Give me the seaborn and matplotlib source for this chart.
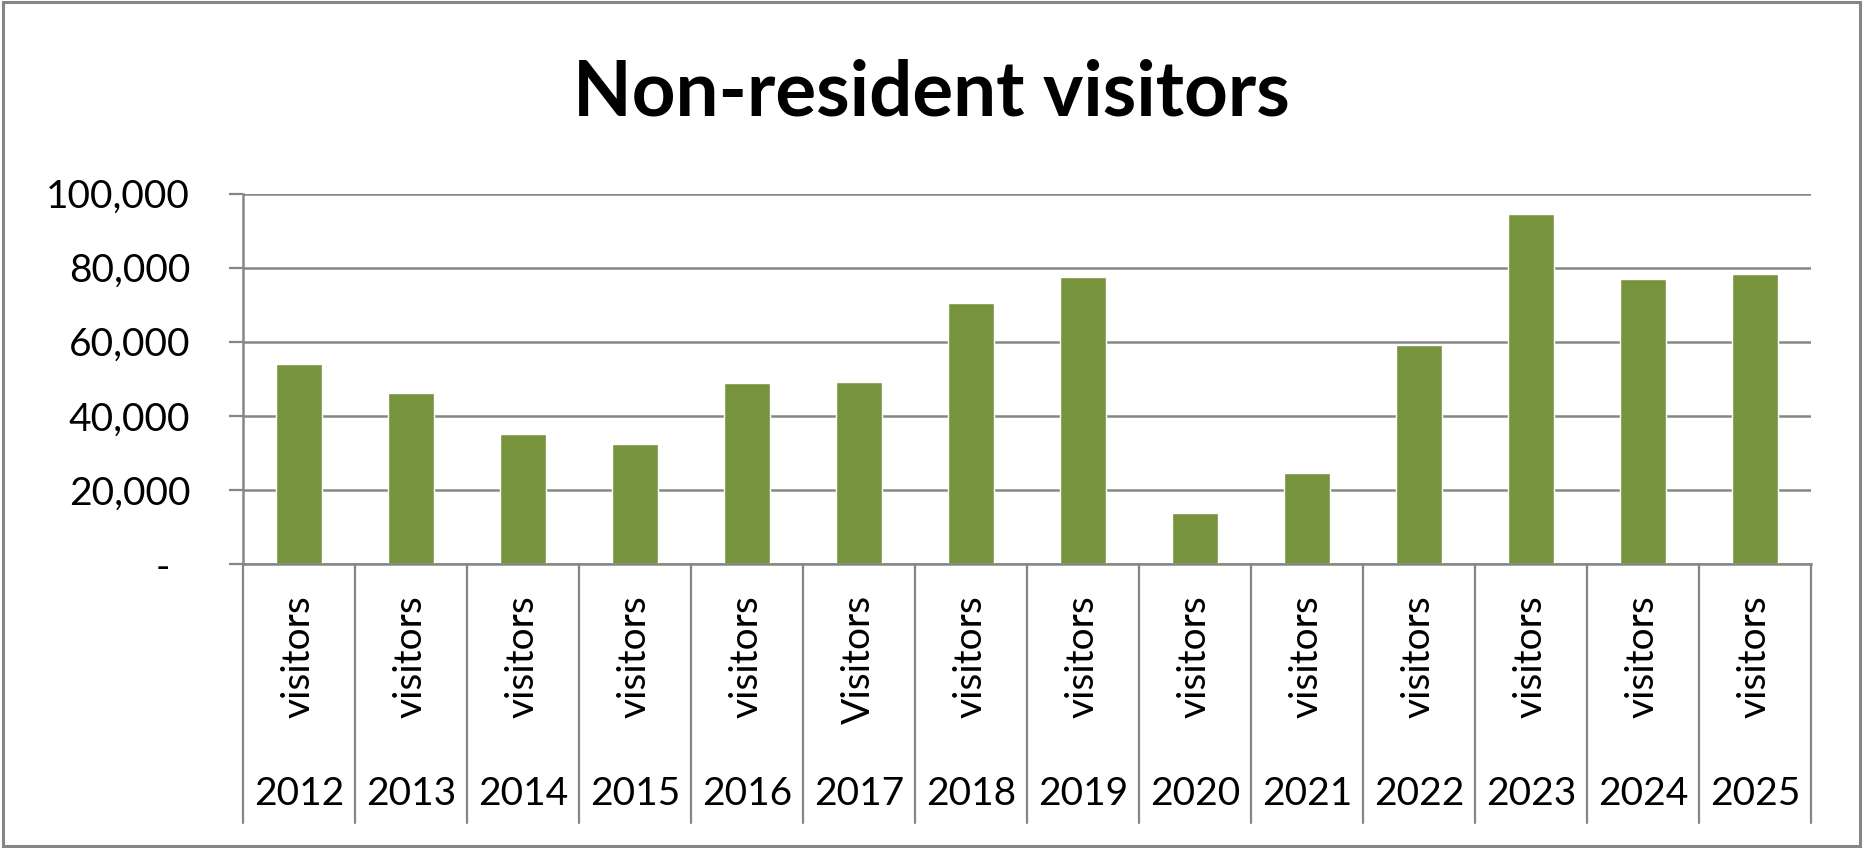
import matplotlib
matplotlib.use("Agg")
import matplotlib.pyplot as plt
import matplotlib.transforms as mtrans
from matplotlib.patches import Rectangle
from matplotlib.ticker import FuncFormatter
import pandas as pd
import seaborn as sns

years = ["2012", "2013", "2014", "2015", "2016", "2017", "2018",
         "2019", "2020", "2021", "2022", "2023", "2024", "2025"]
sublabels = ["visitors", "visitors", "visitors", "visitors", "visitors", "Visitors", "visitors",
             "visitors", "visitors", "visitors", "visitors", "visitors", "visitors", "visitors"]
visitors = [54000, 46100, 35200, 32500, 48800, 49100, 70400,
            77600, 13800, 24500, 59000, 94600, 76800, 78400]

df = pd.DataFrame({"Year": years, "Visitors": visitors})

sns.set_theme(style="white")
plt.rcParams["font.family"] = ["Lato", "DejaVu Sans"]

grey = "#868686"
green = "#77933C"

fig = plt.figure(figsize=(18.63, 8.48), dpi=100)
ax = fig.add_axes([0.1304, 0.3349, 0.9721 - 0.1304, 0.7718 - 0.3349])

sns.barplot(data=df, x="Year", y="Visitors", color=green, saturation=1,
            width=0.41, ax=ax)

ax.set_xlim(-0.5, len(years) - 0.5)
ax.set_ylim(0, 100000)
ax.set_yticks(range(0, 100001, 20000))
ax.yaxis.set_major_formatter(FuncFormatter(lambda v, p: "-  " if v == 0 else f"{v:,.0f}"))
ax.set_axisbelow(True)
ax.yaxis.grid(True, color=grey, linewidth=1.8)
ax.xaxis.grid(False)
ax.set_xlabel("")
ax.set_ylabel("")
ax.tick_params(axis="x", bottom=False, labelbottom=False)
ax.tick_params(axis="y", left=True, direction="out", length=10, width=1.6,
               color=grey, pad=28, labelsize=28, labelcolor="black")
for side in ["top", "right"]:
    ax.spines[side].set_visible(False)
for side in ["left", "bottom"]:
    ax.spines[side].set_color(grey)
    ax.spines[side].set_linewidth(1.8)

# two-level category axis
trans = mtrans.blended_transform_factory(ax.transData, ax.transAxes)
for k in range(len(years) + 1):
    ax.plot([k - 0.5, k - 0.5], [0, -0.699], transform=trans, color=grey,
            lw=1.6, clip_on=False)
for i, (yr, lab) in enumerate(zip(years, sublabels)):
    ax.text(i, -0.0837, lab, transform=trans, rotation=90, ha="center", va="top",
            fontsize=28, color="black")
    ax.text(i, -0.621, yr, transform=trans, ha="center", va="center",
            fontsize=28, color="black")

fig.text(0.5, 0.864, "Non-resident visitors", ha="center", va="baseline",
         fontsize=55, fontweight="bold", color="black")

fig.patches.append(Rectangle((0.0015, 0.002), 0.997, 0.996, transform=fig.transFigure,
                             fill=False, edgecolor=grey, linewidth=2.2))

fig.savefig("out.png", dpi=100)
plt.close(fig)
